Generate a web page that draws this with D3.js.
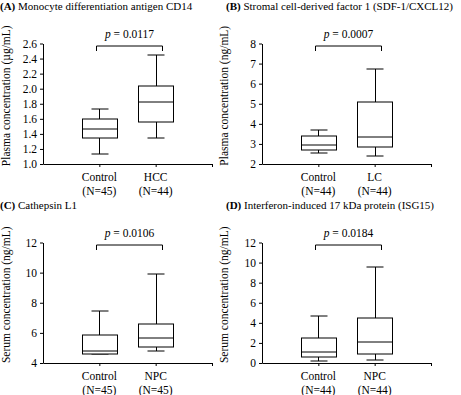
<html>
<head>
<meta charset="utf-8">
<script src="https://cdn.jsdelivr.net/npm/d3@7"></script>
<style>
body { margin: 0; background: #fff; }
svg text { font-family: "Liberation Serif", "Times New Roman", serif; fill: #000; }
.axis path, .axis line { stroke: #000; }
.axis text { font-size: 11.5px; font-family: "Liberation Serif", serif; }
</style>
</head>
<body>
<svg id="chart" width="461" height="395"></svg>
<script>
// 每个面板的数据
var letters = ["A", "B", "C", "D"];
var titles = ["Monocyte differentiation antigen CD14",
              "Stromal cell-derived factor 1 (SDF-1/CXCL12)",
              "Cathepsin L1",
              "Interferon-induced 17 kDa protein (ISG15)"];
var yLabels = ["Plasma concentration (\u00b5g/mL)",
               "Plasma concentration (ng/mL)",
               "Serum concentration (ng/mL)",
               "Serum concentration (ng/mL)"];
var groups = [["Control", "HCC"], ["Control", "LC"], ["Control", "NPC"], ["Control", "NPC"]];
var nLabels = [["(N=45)", "(N=44)"], ["(N=44)", "(N=44)"], ["(N=45)", "(N=45)"], ["(N=44)", "(N=44)"]];
var pValues = ["0.0117", "0.0007", "0.0106", "0.0184"];
var yTicks = [[1.0, 1.2, 1.4, 1.6, 1.8, 2.0, 2.2, 2.4, 2.6],
              [2, 3, 4, 5, 6, 7, 8],
              [4, 6, 8, 10, 12],
              [0, 2, 4, 6, 8, 10, 12]];
var whiskerLow  = [[1.14, 1.35], [2.55, 2.40], [4.60, 4.85], [0.20, 0.30]];
var q1          = [[1.35, 1.57], [2.70, 2.87], [4.62, 5.10], [0.60, 0.90]];
var medians     = [[1.47, 1.83], [2.95, 3.35], [4.85, 5.72], [1.15, 2.10]];
var q3          = [[1.60, 2.04], [3.40, 5.10], [5.90, 6.65], [2.50, 4.50]];
var whiskerHigh = [[1.74, 2.45], [3.70, 6.78], [7.50, 9.95], [4.70, 9.60]];

var svg = d3.select("#chart");
var plotW = 169, plotH = 120.5;
var lefts = [43, 262, 43, 262];
var tops = [43.5, 43.5, 242.5, 242.5];
var boxW = 35;

for (let i = 0; i < letters.length; i++) {
    drawPanel(i);
}

function drawPanel(i) {
    var g = svg.append("g").attr("transform", `translate(${lefts[i]},${tops[i]})`);
    var x = d3.scaleLinear().domain([0, 3]).range([0, plotW]);
    var y = d3.scaleLinear().domain(d3.extent(yTicks[i])).range([plotH, 0]);

    // 标题
    var title = svg.append("text")
        .attr("x", lefts[i] < 100 ? 0 : 226)
        .attr("y", tops[i] - 33.5)
        .attr("font-size", "11px");
    title.append("tspan").attr("font-weight", "bold").text("(" + letters[i] + ")");
    title.append("tspan").text(" " + titles[i]);

    // 纵轴
    var fmt = i == 0 ? d3.format(".1f") : d3.format("d");
    g.append("g").attr("class", "axis")
        .call(d3.axisLeft(y).tickValues(yTicks[i]).tickSize(3).tickSizeOuter(0).tickPadding(3).tickFormat(fmt))
        .attr("font-family", null);
    // 横轴
    g.append("g").attr("class", "axis")
        .attr("transform", `translate(0,${plotH})`)
        .call(d3.axisBottom(x).tickValues([1, 2, 3]).tickSize(3).tickSizeOuter(0).tickFormat(""));

    // 纵轴标题
    g.append("text")
        .attr("transform", `translate(${-lefts[i] + (lefts[i] < 100 ? 10 : 228)},${plotH / 2 - 8}) rotate(-90)`)
        .attr("text-anchor", "middle")
        .attr("font-size", "11.5px")
        .text(yLabels[i]);

    // 类别标签
    for (let k = 0; k < 2; k++) {
        var cx = x(k + 1);
        var t = g.append("text").attr("text-anchor", "middle").attr("font-size", "11.5px");
        t.append("tspan").attr("x", cx).attr("y", plotH + 17).text(groups[i][k]);
        t.append("tspan").attr("x", cx).attr("y", plotH + 31).text(nLabels[i][k]);
        drawBox(g, cx, y, whiskerLow[i][k], q1[i][k], medians[i][k], q3[i][k], whiskerHigh[i][k]);
    }

    // p值括号
    var bx1 = Math.round(x(1) - 3) + 0.5, bx2 = Math.round(x(2) + 6) + 0.5;
    g.append("path")
        .attr("d", `M${bx1},7.5V2.5H${bx2}V7.5`)
        .attr("fill", "none").attr("stroke", "#000");
    var pt = g.append("text")
        .attr("x", (bx1 + bx2) / 2).attr("y", -6)
        .attr("text-anchor", "middle").attr("font-size", "11.5px");
    pt.append("tspan").attr("font-style", "italic").text("p");
    pt.append("tspan").text(" = " + pValues[i]);
}

function drawBox(g, cx, y, lo, a, m, b, hi) {
    var c = Math.round(cx) + 0.5;
    var l = Math.round(cx - boxW / 2) + 0.5, r = Math.round(cx + boxW / 2) + 0.5;
    var yy = function (v) { return Math.round(y(v)) + 0.5; };
    var capL = Math.round(cx - boxW / 4) + 0.5, capR = Math.round(cx + boxW / 4) + 0.5;
    // 须线
    g.append("path")
        .attr("d", `M${c},${yy(hi)}V${yy(b)}M${c},${yy(a)}V${yy(lo)}M${capL},${yy(hi)}H${capR}M${capL},${yy(lo)}H${capR}`)
        .attr("fill", "none").attr("stroke", "#000");
    // 箱体
    g.append("rect")
        .attr("x", l).attr("y", yy(b))
        .attr("width", r - l).attr("height", yy(a) - yy(b))
        .attr("fill", "#fff").attr("stroke", "#000");
    g.append("line")
        .attr("x1", l).attr("x2", r)
        .attr("y1", yy(m)).attr("y2", yy(m))
        .attr("stroke", "#000");
}
</script>
</body>
</html>
